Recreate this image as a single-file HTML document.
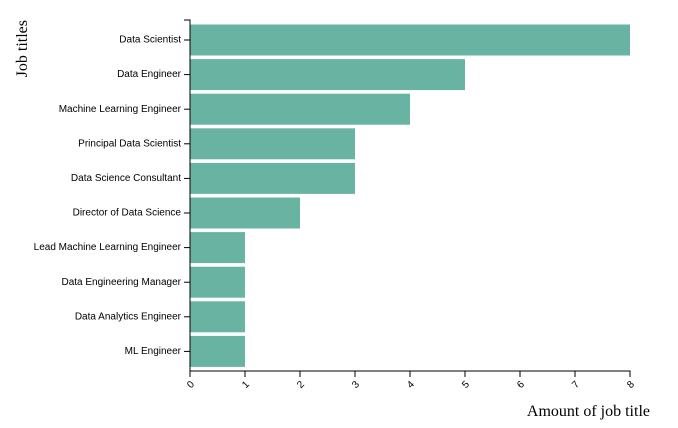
<!DOCTYPE html>
<html><head><meta charset="utf-8"><style>body{margin:0;background:#fff}svg{display:block;font-family:"Liberation Sans",sans-serif}</style></head>
<body>
<svg id="c" width="678" height="428"></svg>
<script>
const categories=["Data Scientist","Data Engineer","Machine Learning Engineer","Principal Data Scientist","Data Science Consultant","Director of Data Science","Lead Machine Learning Engineer","Data Engineering Manager","Data Analytics Engineer","ML Engineer"];
const counts=[8,5,4,3,3,2,1,1,1,1];
const xTicks=[0,1,2,3,4,5,6,7,8];
const NS="http://www.w3.org/2000/svg",svg=document.getElementById('c');
const X0=190,X1=630,Y0=20,Y1=371;
const x=v=>X0+v*(X1-X0)/8;
const band=34.6;
const y=i=>24.5+i*band;
function mk(t,a,p){const e=document.createElementNS(NS,t);for(const k in a)e.setAttribute(k,a[k]);(p||svg).appendChild(e);return e;}
categories.forEach((c,i)=>{
 const r=mk('rect',{x:x(0),y:y(i),width:x(counts[i])-x(0),height:31,fill:'#69b3a2'});
 
 
 const cy=y(i)+15.5;
 mk('line',{x1:X0-6,x2:X0,y1:cy,y2:cy,stroke:'#000'});
 const t=mk('text',{x:X0-9,y:cy,'font-size':10,'text-anchor':'end','dominant-baseline':'middle'});
 t.textContent=c;
 
 
});
mk('path',{d:`M${X0-6},${Y0}H${X0}V${Y1}`,fill:'none',stroke:'#000'});
mk('path',{d:`M${X0},${Y1+6}V${Y1}H${X1}V${Y1+6}`,fill:'none',stroke:'#000'});
xTicks.forEach(v=>{
 mk('line',{x1:x(v),x2:x(v),y1:Y1,y2:Y1+6,stroke:'#000'});
 const t=mk('text',{x:x(v)+3,y:Y1+12,'font-size':10,'text-anchor':'end',transform:`rotate(-45 ${x(v)+3} ${Y1+12})`,'dominant-baseline':'middle'});
 t.textContent=v;
 
 
});
const xt=mk('text',{x:650,y:416,'font-size':16,'text-anchor':'end','font-family':'Liberation Serif'});
xt.textContent='Amount of job title';

const yt=mk('text',{x:0,y:0,'font-size':16,'text-anchor':'end','font-family':'Liberation Serif',transform:'translate(27,20) rotate(-90)'});
yt.textContent='Job titles';

</script>
</body></html>
